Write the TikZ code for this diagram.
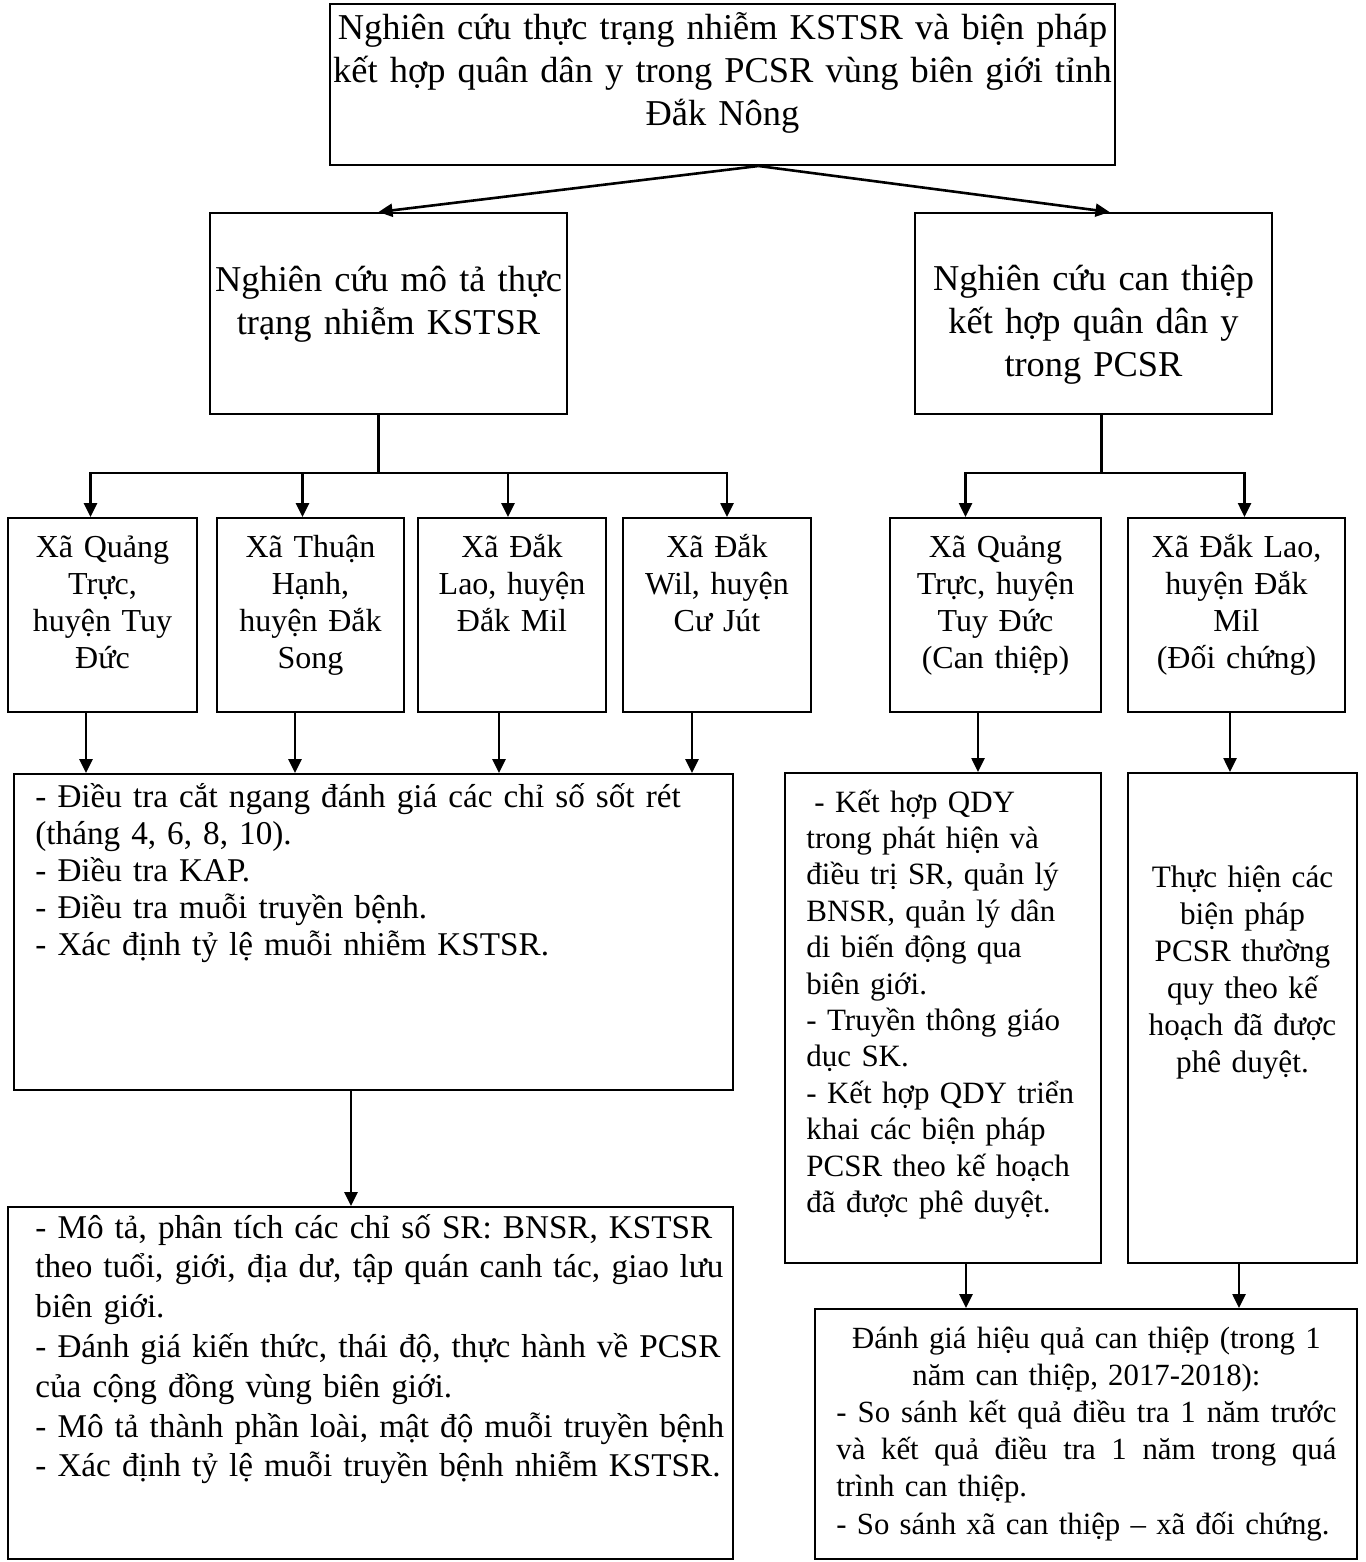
\documentclass[tikz,border=0pt]{standalone}
\usepackage{fontspec}
\setmainfont{Liberation Serif}
\usepackage{tikz}
\usetikzlibrary{arrows.meta,fit}

\begin{document}
\begin{tikzpicture}[x=0.5pt, y=-0.5pt,
    box/.style={rectangle, draw, line width=1pt, inner sep=0pt},
    ctxt/.style={inner sep=0pt, anchor=base, align=center, font=\fontsize{16}{18.5}\selectfont},
    ltxt/.style={inner sep=0pt, anchor=base west, align=left, font=\fontsize{16}{18.5}\selectfont},
    bigtxt/.style={ctxt, font=\fontsize{18.2}{21.3}\selectfont},
    line/.style={line width=1.3pt},
    arrow/.style={-{Triangle[length=7pt, width=6.5pt]}, line width=1.3pt}
]
    \useasboundingbox (0,0) rectangle (1365,1562);

    % boxes
    \node[box, fit={(330,4) (1115,165)}] (study) {};
    \node[box, fit={(210,213) (567,414)}] (descr) {};
    \node[box, fit={(915,213) (1272,414)}] (interv) {};
    \node[box, fit={(8,518) (197,712)}] (sQT) {};
    \node[box, fit={(217,518) (404,712)}] (sTH) {};
    \node[box, fit={(418,518) (606,712)}] (sDL) {};
    \node[box, fit={(623,518) (811,712)}] (sDW) {};
    \node[box, fit={(890,518) (1101,712)}] (sCT) {};
    \node[box, fit={(1128,518) (1345,712)}] (sDC) {};
    \node[box, fit={(14,774) (733,1090)}] (field) {};
    \node[box, fit={(8,1207) (733,1559)}] (analysis) {};
    \node[box, fit={(785,773) (1101,1263)}] (action) {};
    \node[box, fit={(1128,773) (1357,1263)}] (routine) {};
    \node[box, fit={(815,1309) (1357,1559)}] (evalbox) {};

    % texts
    \node[bigtxt, text width=440pt] (studytxt) at (722.5,40) {Nghiên cứu thực trạng nhiễm KSTSR và biện pháp\\kết hợp quân dân y trong PCSR vùng biên giới tỉnh\\Đắk Nông};
    \node[bigtxt, text width=220pt] (descrtxt) at (388.5,292) {Nghiên cứu mô tả thực\\trạng nhiễm KSTSR};
    \node[bigtxt, text width=220pt] (intervtxt) at (1093.5,291) {Nghiên cứu can thiệp\\kết hợp quân dân y\\trong PCSR};
    \node[ctxt, text width=110pt] (qttxt) at (102.5,557) {Xã Quảng\\Trực,\\huyện Tuy\\Đức};
    \node[ctxt, text width=110pt] (thtxt) at (310.5,557) {Xã Thuận\\Hạnh,\\huyện Đắk\\Song};
    \node[ctxt, text width=110pt] (dltxt) at (512,557) {Xã Đắk\\Lao, huyện\\Đắk Mil};
    \node[ctxt, text width=110pt] (dwtxt) at (717,557) {Xã Đắk\\Wil, huyện\\Cư Jút};
    \node[ctxt, text width=120pt] (cttxt) at (995.5,557) {Xã Quảng\\Trực, huyện\\Tuy Đức\\(Can thiệp)};
    \node[ctxt, text width=120pt] (dctxt) at (1236.5,557) {Xã Đắk Lao,\\huyện Đắk\\Mil\\(Đối chứng)};
    \node[ltxt, font=\fontsize{16.6}{18.5}\selectfont, text width=360pt] (fieldtxt) at (35,807) {- Điều tra cắt ngang đánh giá các chỉ số sốt rét\\(tháng 4, 6, 8, 10).\\- Điều tra KAP.\\- Điều tra muỗi truyền bệnh.\\- Xác định tỷ lệ muỗi nhiễm KSTSR.};
    \node[ltxt, font=\fontsize{16.6}{19.9}\selectfont, text width=360pt] (analysistxt) at (35,1238) {- Mô tả, phân tích các chỉ số SR: BNSR, KSTSR\\\makebox[344pt][s]{\spaceskip=.25em plus 1em theo tuổi, giới, địa dư, tập quán canh tác, giao lưu}\\biên giới.\\- Đánh giá kiến thức, thái độ, thực hành về PCSR\\của cộng đồng vùng biên giới.\\- Mô tả thành phần loài, mật độ muỗi truyền bệnh\\- Xác định tỷ lệ muỗi truyền bệnh nhiễm KSTSR.};
    \node[ltxt, font=\fontsize{15.5}{18.2}\selectfont, text width=160pt] (actiontxt) at (806,812) {\hspace*{4pt}- Kết hợp QDY\\trong phát hiện và\\điều trị SR, quản lý\\BNSR, quản lý dân\\di biến động qua\\biên giới.\\- Truyền thông giáo\\dục SK.\\- Kết hợp QDY triển\\khai các biện pháp\\PCSR theo kế hoạch\\đã được phê duyệt.};
    \node[ctxt, font=\fontsize{15.6}{18.5}\selectfont, text width=130pt] (routinetxt) at (1242.5,887) {Thực hiện các\\biện pháp\\PCSR thường\\quy theo kế\\hoạch đã được\\phê duyệt.};
    \node[ltxt, font=\fontsize{15.4}{18.6}\selectfont, text width=260pt] (evaltxt) at (836,1348) {\makebox[250pt][c]{Đánh giá hiệu quả can thiệp (trong 1}\\\makebox[250pt][c]{năm can thiệp, 2017-2018):}\\\makebox[250pt][s]{\spaceskip=.25em plus 1em - So sánh kết quả điều tra 1 năm trước}\\\makebox[250pt][s]{\spaceskip=.25em plus 1em và kết quả điều tra 1 năm trong quá}\\trình can thiệp.\\- So sánh xã can thiệp – xã đối chứng.};

    % connectors
    \draw[arrow] ([xshift=18pt]study.south) -- ([xshift=-5pt]descr.north);
    \draw[arrow] ([xshift=18pt]study.south) -- ([xshift=8pt]interv.north);

    \coordinate (busL) at ([xshift=-5pt, yshift=-29pt]descr.south);
    \draw[line] ([xshift=-5pt]descr.south) -- (busL);
    \foreach \c/\dx in {sQT/-6pt, sTH/-4pt, sDL/-2pt, sDW/5pt}
        \draw[arrow] (busL) -| ([xshift=\dx]\c.north);

    \coordinate (busR) at ([xshift=4pt, yshift=-29pt]interv.south);
    \draw[line] ([xshift=4pt]interv.south) -- (busR);
    \foreach \c/\dx in {sCT/-15pt, sDC/4pt}
        \draw[arrow] (busR) -| ([xshift=\dx]\c.north);

    \foreach \c/\dx in {sQT/-8.25pt, sTH/-7.75pt, sDL/-6.5pt, sDW/-12.5pt}
        \draw[arrow] ([xshift=\dx]\c.south) -- ([xshift=\dx]\c.south |- field.north);
    \draw[arrow] ([xshift=-8.75pt]sCT.south) -- ([xshift=-8.75pt]sCT.south |- action.north);
    \draw[arrow] ([xshift=-3.25pt]sDC.south) -- ([xshift=-3.25pt]sDC.south |- routine.north);
    \draw[arrow] ([xshift=-11.25pt]field.south) -- ([xshift=-11.25pt]field.south |- analysis.north);
    \draw[arrow] ([xshift=11.5pt]action.south) -- ([xshift=11.5pt]action.south |- evalbox.north);
    \draw[arrow] ([xshift=-1.75pt]routine.south) -- ([xshift=-1.75pt]routine.south |- evalbox.north);
\end{tikzpicture}
\end{document}
